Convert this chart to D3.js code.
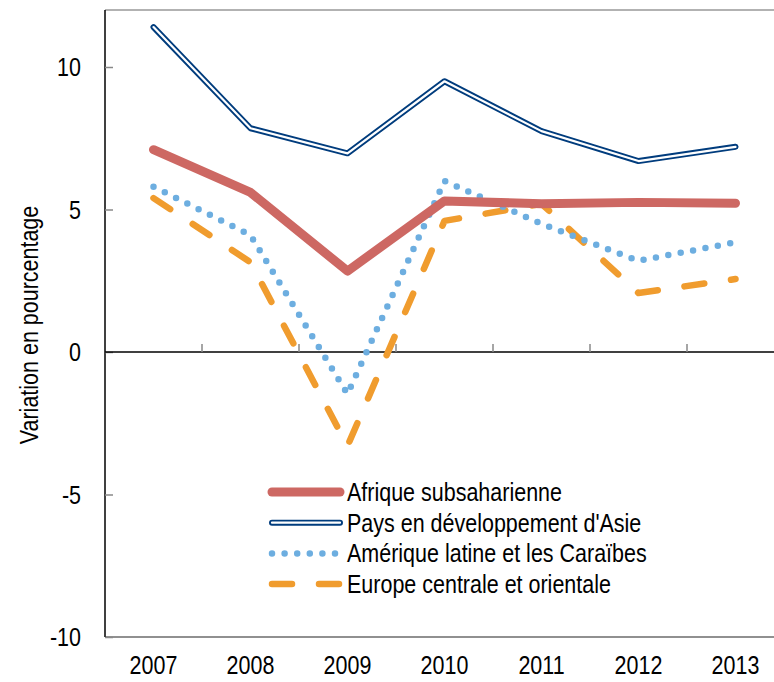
<!DOCTYPE html>
<html><head><meta charset="utf-8">
<script src="https://cdn.jsdelivr.net/npm/d3@7"></script>
<style>body{margin:0;background:#fff}svg{display:block}text{font-family:"Liberation Sans",Arial,sans-serif;fill:#000;font-size:25px}</style>
</head><body><svg id="c" width="774" height="682"></svg>
<script>
const years = ["2007","2008","2009","2010","2011","2012","2013"];
const afrique = [7.1, 5.6, 2.84, 5.3, 5.2, 5.25, 5.22];
const asie = [11.4, 7.85, 6.97, 9.5, 7.75, 6.7, 7.2];
const amerique = [5.8, 4.1, -1.47, 6.0, 4.5, 3.2, 3.85];
const europe = [5.4, 3.15, -3.3, 4.6, 5.2, 2.07, 2.56];
const seriesNames = ["Afrique subsaharienne","Pays en développement d'Asie","Amérique latine et les Caraïbes","Europe centrale et orientale"];
const yTicks = [-10, -5, 0, 5, 10];

const svg = d3.select("#c");
const L = 105, R = 784, T = 10, B = 637;
const SX = 0.86;
const x = d3.scaleBand().domain(years).range([L, R]);
const y = d3.scaleLinear().domain([-10, 12]).range([B, T]);
const cx = d => x(d) + x.bandwidth()/2;

// frame
svg.append("line").attr("x1",L).attr("x2",774).attr("y1",T).attr("y2",T).attr("stroke","#999").attr("stroke-width",1.5);
svg.append("line").attr("x1",L).attr("x2",774).attr("y1",B).attr("y2",B).attr("stroke","#222").attr("stroke-width",1.2);
svg.append("line").attr("x1",L).attr("x2",L).attr("y1",T).attr("y2",B).attr("stroke","#000").attr("stroke-width",1.5);

// y axis ticks
const yAxis = svg.append("g").attr("transform",`translate(${L},0)`)
  .call(d3.axisRight(y).tickValues(yTicks).tickSize(8).tickFormat(""));
yAxis.select(".domain").remove();
yAxis.selectAll("line").attr("stroke","#888").attr("stroke-width",1.5);
svg.append("g").selectAll("text").data(yTicks).join("text")
  .attr("transform",d=>`translate(81,${y(d)+9}) scale(${SX},1)`).attr("text-anchor","end")
  .text(d=>d);

// zero line with category ticks
svg.append("line").attr("x1",L).attr("x2",774).attr("y1",y(0)).attr("y2",y(0)).attr("stroke","#000").attr("stroke-width",1.5);
svg.append("g").selectAll("line").data(years.slice(1)).join("line")
  .attr("x1",d=>x(d)).attr("x2",d=>x(d)).attr("y1",y(0)).attr("y2",y(0)-8)
  .attr("stroke","#888").attr("stroke-width",1.5);

// x labels
svg.append("g").selectAll("text").data(years).join("text")
  .attr("transform",d=>`translate(${cx(d)},674) scale(${SX},1)`).attr("text-anchor","middle")
  .text(d=>d);

// y title
svg.append("text").attr("transform",`translate(38,325) rotate(-90) scale(${SX},1)`)
  .attr("text-anchor","middle").text("Variation en pourcentage");

const line = d3.line().x((d,i)=>cx(years[i])).y(d=>y(d));
const styles = [
  [{stroke:"#CD6863", w:9}],
  [{stroke:"#003C7D", w:6},{stroke:"#fff", w:2.2}],
  [{stroke:"#6DAEE0", w:6.5, dash:"0,12.6"}],
  [{stroke:"#F09C2E", w:6.5, dash:"20,27"}]
];
const data = [afrique, asie, amerique, europe];
const order = [3,2,0,1];
order.forEach(k=>{
  styles[k].forEach(s=>{
    svg.append("path").datum(data[k]).attr("d",line).attr("fill","none")
      .attr("stroke",s.stroke).attr("stroke-width",s.w)
      .attr("stroke-linecap","round").attr("stroke-linejoin","round")
      .attr("stroke-dasharray",s.dash||null);
  });
});

// legend
const lg = svg.append("g");
seriesNames.forEach((n,k)=>{
  const yy = 492 + k*30.7;
  styles[k].forEach(s=>{
    lg.append("line").attr("x1",272).attr("x2",340).attr("y1",yy).attr("y2",yy)
      .attr("stroke",s.stroke).attr("stroke-width",s.w).attr("stroke-linecap","round")
      .attr("stroke-dasharray",s.dash||null);
  });
  lg.append("text").attr("transform",`translate(347,${yy+9}) scale(${SX},1)`).text(n);
});
</script></body></html>
